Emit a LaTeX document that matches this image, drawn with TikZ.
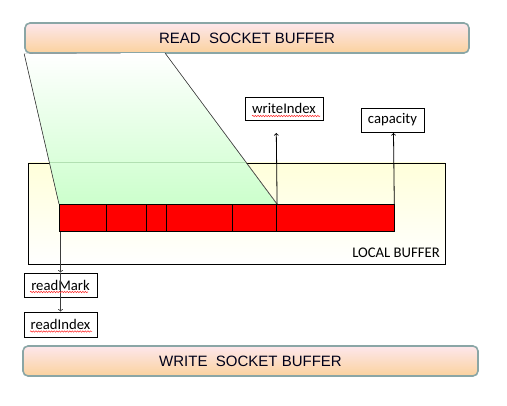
\documentclass[tikz,border=0pt]{standalone}
\usepackage{fontspec}
\setmainfont{Liberation Sans}
\newfontfamily\calibrifont{Carlito}
\usepackage{tikz}
\usetikzlibrary{decorations.pathmorphing}
\tikzset{>=to}
\definecolor{sockline}{RGB}{138,166,166}
\definecolor{socktop}{RGB}{253,231,236}
\definecolor{sockbot}{RGB}{251,210,158}
\definecolor{localtop}{RGB}{255,255,218}
\definecolor{greenbot}{RGB}{204,255,204}
\definecolor{greenline}{RGB}{178,224,178}
\definecolor{edgegray}{RGB}{60,60,60}
\tikzset{
  socket/.style={draw=sockline, line width=1.6pt, rounded corners=5pt, top color=socktop, bottom color=sockbot, minimum height=30pt, inner sep=0pt, font=\fontsize{15}{18}\selectfont, text=black!90!blue},
  labelbox/.style={draw, line width=0.8pt, fill=white, inner sep=0pt, font=\calibrifont\fontsize{14.7}{17}\selectfont},
  cell/.style={draw, fill=red, line width=0.8pt, inner sep=0pt, minimum height=27pt, anchor=north west},
  squiggle/.style={red!85, line width=0.5pt, decorate, decoration={snake, amplitude=0.7pt, segment length=2.6pt}},
}

\begin{document}
\begin{tikzpicture}[x=1pt,y=-1pt]

\fill[white] (0,0) rectangle (507,406);
\useasboundingbox (0,0) rectangle (507,406);

\node[socket, minimum width=444pt] (rsb) at (247,38) {READ\ \ SOCKET BUFFER};
\node[socket, minimum width=455pt] (wsb) at (250.5,361) {WRITE\ \ SOCKET BUFFER};

\node[draw, line width=0.8pt, top color=localtop, bottom color=white, inner sep=0pt, minimum width=416.5pt, minimum height=101pt] (lb) at (236.75,213.5) {};
\node[anchor=base east, inner sep=0pt, font=\calibrifont\fontsize{14.7}{17}\selectfont] (lbl) at (440,258) {LOCAL BUFFER};

\coordinate (gtop) at (165,53);
\fill[top color=white, bottom color=greenbot] (rsb.south west) -- (gtop) -- (276.3,204) -- (59,204) -- cycle;
\begin{scope}
  \clip (rsb.south west) -- (gtop) -- (276.3,204) -- (59,204) -- cycle;
  \draw[greenline, line width=0.8pt] (lb.north west) -- (lb.north east);
\end{scope}

\foreach \xa/\xb [count=\i] in {59/105.5,105.5/145.5,145.5/165.5,165.5/231.5,231.5/276.3,276.3/393.5}
  \node[cell, minimum width={(\xb-\xa)*1pt}] (cell\i) at (\xa,204) {};

\draw[edgegray, line width=0.6pt] (rsb.south west) -- (cell1.north west);
\draw[edgegray, line width=0.6pt] (gtop) -- (cell5.north east);

\node[labelbox, minimum width=78pt, minimum height=23pt] (wi) at (284,108.5) {writeIndex};
\node[labelbox, minimum width=63pt, minimum height=24pt] (cap) at (392.5,120) {capacity};
\node[labelbox, minimum width=73pt, minimum height=24pt] (rm) at (60.5,285) {readMark};
\node[labelbox, minimum width=73pt, minimum height=25pt] (ri) at (60.5,324.5) {readIndex};

\coordinate (wtip) at (276.3,133);
\coordinate (ctip) at (393.5,133);
\coordinate (rtop) at ([xshift=1.5pt]cell1.south west);

\draw[->, line width=0.8pt] (cell5.north east) -- (wtip);
\draw[->, line width=0.8pt] (cell6.north east) -- (ctip);
\draw[->, edgegray, line width=0.8pt] (rtop) -- (rm.north -| rtop);
\draw[->, edgegray, line width=0.8pt] (rm.north -| rtop) -- (ri.north -| rtop);

\draw[squiggle] ([shift={(-32,7.5)}]wi.center) -- ([shift={(36,7.5)}]wi.center);
\draw[squiggle] ([shift={(-30.5,7)}]rm.center) -- ([shift={(27.5,7)}]rm.center);
\draw[squiggle] ([shift={(-30.5,7)}]ri.center) -- ([shift={(31.5,7)}]ri.center);

\end{tikzpicture}
\end{document}
